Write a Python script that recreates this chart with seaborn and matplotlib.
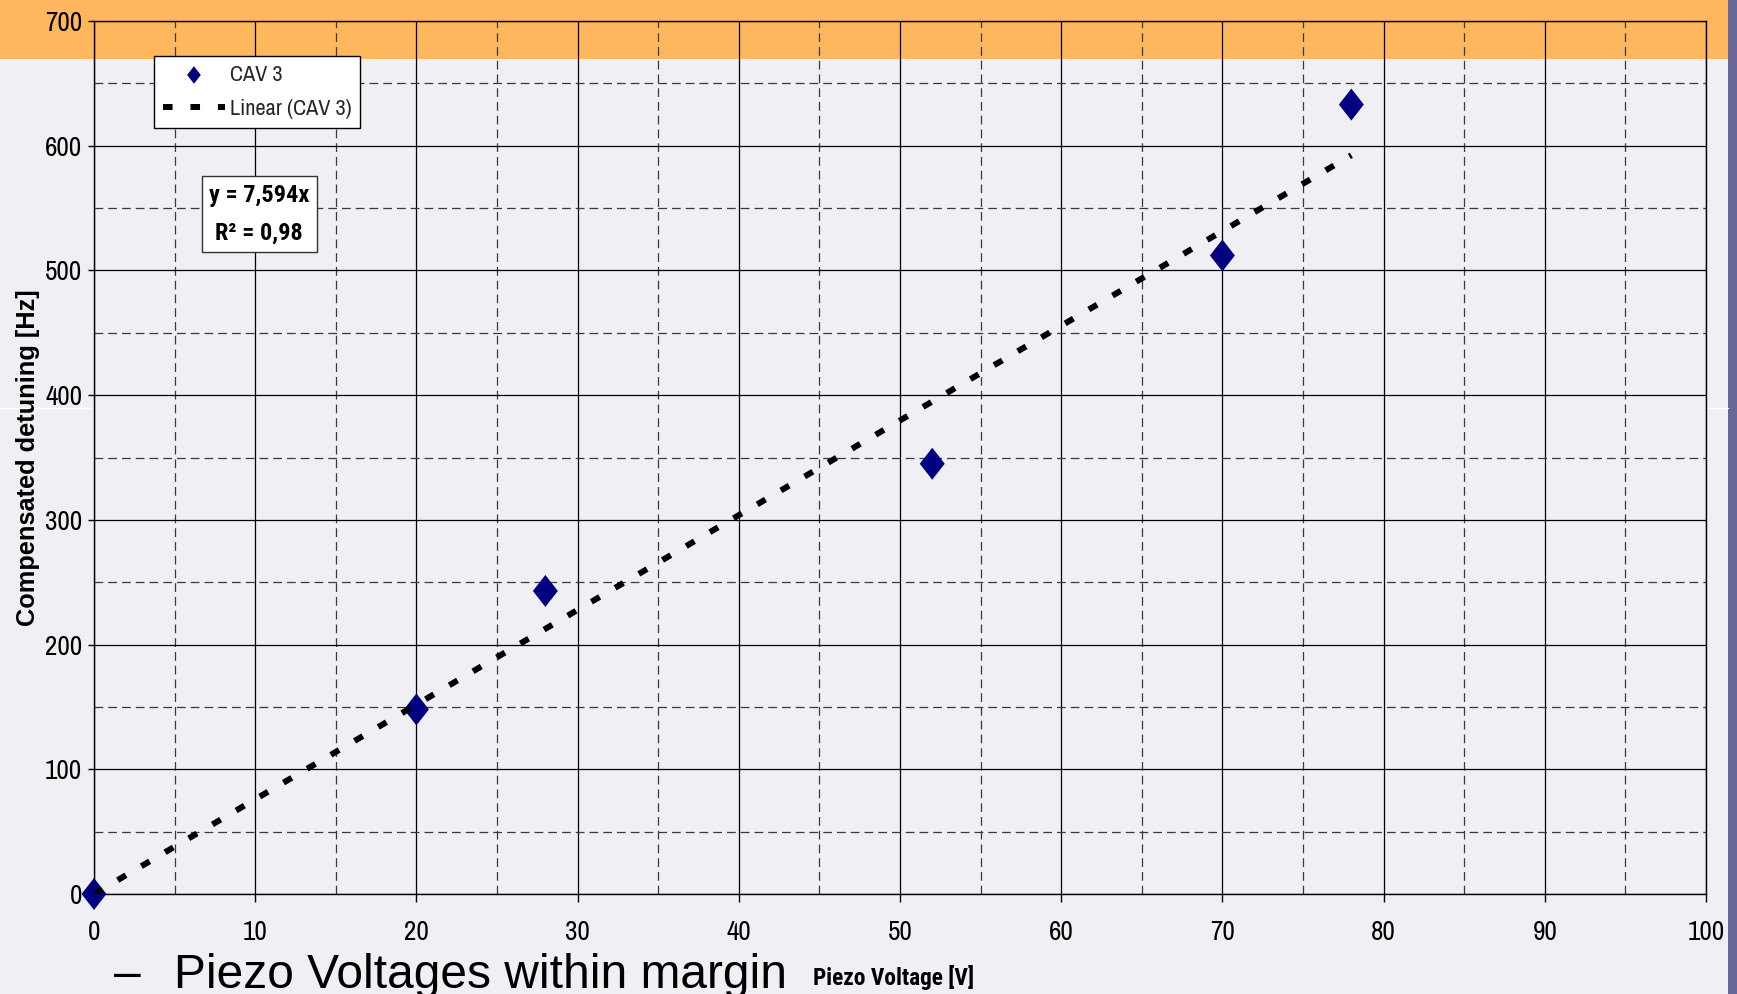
import numpy as np
import pandas as pd
import matplotlib
matplotlib.use("Agg")
import matplotlib.pyplot as plt
from matplotlib.patches import Rectangle
from matplotlib.lines import Line2D
from matplotlib.ticker import MultipleLocator
import seaborn as sns

# Piezo tuning measurements, cavity 3
piezo_voltage = [0, 20, 28, 52, 70, 78]
detuning_hz = [0, 148, 243, 345, 512, 633]
series_name = "CAV 3"
trend_name = "Linear (CAV 3)"
trend_slope = 7.594
r_squared = 0.98
x_limits = (0, 100)
y_limits = (0, 700)

sns.set_theme(style="white")
NARROW = ["Archivo Narrow", "PT Sans Narrow", "Liberation Sans", "DejaVu Sans"]
NARROW_BOLD = ["Roboto Condensed", "PT Sans Narrow", "Liberation Sans", "DejaVu Sans"]
REGULAR = ["Liberation Sans", "DejaVu Sans"]
plt.rcParams["font.family"] = NARROW

SLIDE_BG = "#EFEFF4"
BAND = "#FFB75E"
STRIP = "#666699"
NAVY = "#000080"

W, H = 1737, 994
fig = plt.figure(figsize=(W / 100, H / 100), dpi=100, facecolor=SLIDE_BG)

# slide decoration: header band, side strip, thin rule
fig.add_artist(Rectangle((0, 1 - 59 / H), 1, 59 / H, transform=fig.transFigure,
                         facecolor=BAND, edgecolor="none", zorder=-2))
fig.add_artist(Rectangle((1728 / W, 0), (W - 1728) / W, 1, transform=fig.transFigure,
                         facecolor=STRIP, edgecolor="none", zorder=-2))
for x0, x1 in [(0, 94), (1706, 1728)]:
    fig.add_artist(Line2D([x0 / W, x1 / W], [1 - 408 / H] * 2, transform=fig.transFigure,
                          color="white", lw=1, zorder=-1))

ax = fig.add_axes([94 / W, 1 - 894 / H, (1706 - 94) / W, (894 - 21) / H])
ax.set_facecolor("none")

df = pd.DataFrame({"voltage": piezo_voltage, "detuning": detuning_hz})
x_ends = np.array([min(piezo_voltage), max(piezo_voltage)], dtype=float)
trend = pd.DataFrame({"voltage": x_ends, "detuning": trend_slope * x_ends})

diamond = [(0, 1), (0.78, 0), (0, -1), (-0.78, 0), (0, 1)]
sns.scatterplot(data=df, x="voltage", y="detuning", ax=ax, marker=diamond, s=530,
                color=NAVY, edgecolor="none", linewidth=0, label=series_name, zorder=3,
                legend=False, clip_on=False)
sns.lineplot(data=trend, x="voltage", y="detuning", ax=ax, color="black", lw=4.3,
             linestyle=(0, (1.6, 3.0)), dash_capstyle="butt", label=trend_name,
             zorder=4, legend=False)

ax.set_xlim(*x_limits)
ax.set_ylim(*y_limits)
ax.xaxis.set_major_locator(MultipleLocator(10))
ax.xaxis.set_minor_locator(MultipleLocator(5))
ax.yaxis.set_major_locator(MultipleLocator(100))
ax.yaxis.set_minor_locator(MultipleLocator(50))
ax.grid(which="major", color="black", lw=0.9, ls="-", zorder=1)
ax.grid(which="minor", color="#3a3a3a", lw=0.9, ls=(0, (7, 4)), zorder=1)
ax.set_axisbelow(True)
for sp in ax.spines.values():
    sp.set_visible(True)
    sp.set_color("black")
    sp.set_linewidth(1)

ax.tick_params(which="minor", length=0)
ax.tick_params(axis="x", which="major", bottom=True, length=6, width=1, pad=13,
               labelsize=19.5, colors="black", direction="out")
ax.tick_params(axis="y", which="major", left=True, length=4.5, width=1, pad=4,
               labelsize=19.5, colors="black", direction="out")

ax.set_xlabel("Piezo Voltage [V]", fontsize=16.8, fontweight="bold", color="black",
              family=NARROW_BOLD)
ax.xaxis.set_label_coords(0.4963, -0.0951)
ax.xaxis.label.set_verticalalignment("center")

ax.set_ylabel("Compensated detuning [Hz]", fontsize=18.3, fontweight="bold",
              color="black", family=REGULAR)
ax.yaxis.set_label_coords(-0.0409, 0.5)
ax.yaxis.label.set_verticalalignment("center")
ax.yaxis.label.set_rotation_mode("anchor")

handles, labels = ax.get_legend_handles_labels()
leg = ax.legend(handles, labels, loc="upper left", bbox_to_anchor=(0.0372, 0.960),
                borderaxespad=0, fontsize=16, frameon=True, fancybox=False,
                framealpha=1, facecolor="white", edgecolor="black", markerscale=0.55,
                handlelength=2.8, handletextpad=0.2, labelspacing=0.65, borderpad=0.4)
leg.get_frame().set_linewidth(1)

eq_text = f"y = {trend_slope:.3f}x\nR\u00b2 = {r_squared:.2f}".replace(".", ",")
ax.text(10.24, 545, eq_text, ha="center", va="center", fontsize=17.5, fontweight="bold",
        linespacing=1.85, color="black", zorder=5, family=NARROW_BOLD,
        bbox=dict(boxstyle="square,pad=0.3", facecolor="white", edgecolor="#333333", lw=1))

# slide bullet below the chart
fig.text(114 / W, 1 - 988 / H, "\u2013", fontsize=34.5, va="baseline", color="black",
         family=REGULAR)
fig.text(174 / W, 1 - 988 / H, "Piezo Voltages within margin", fontsize=34.5,
         va="baseline", color="black", family=REGULAR)

fig.savefig("out.png", dpi=100, facecolor=SLIDE_BG)
